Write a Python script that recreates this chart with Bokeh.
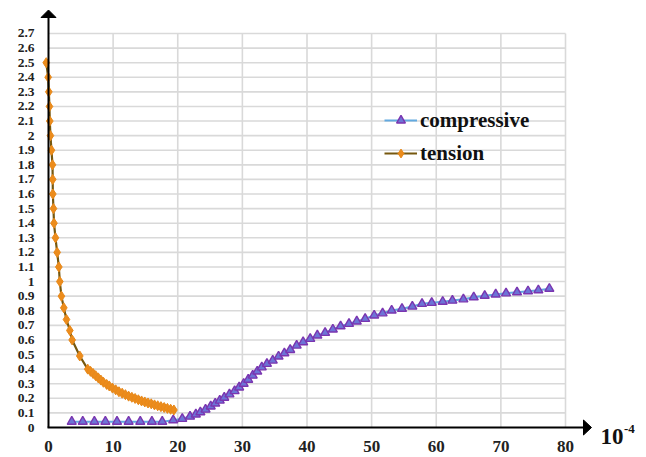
from bokeh.plotting import figure
from bokeh.models import Range1d, Legend, LegendItem
from bokeh.core.properties import value
from bokeh.embed import file_html
from bokeh.resources import INLINE

# ---- data ----
tension_x = [-0.35, -0.05, 0.05, 0.15, 0.2, 0.3, 0.46, 0.62, 0.65, 0.67,
             0.77, 0.85, 1.08, 1.34, 1.6, 1.75, 2.0, 2.37, 2.78, 3.3,
             3.66, 4.84, 6.07, 6.5, 6.9, 7.3, 7.7, 8.1, 8.5, 9.0,
             9.4, 9.9, 10.4, 10.9, 11.4, 11.9, 12.4, 12.9, 13.4, 13.9,
             14.4, 14.9, 15.4, 15.9, 16.4, 16.9, 17.4, 17.9, 18.4, 18.9, 19.4]
tension_y = [2.5, 2.4, 2.3, 2.2, 2.1, 2.0, 1.9, 1.8, 1.7, 1.6,
             1.5, 1.4, 1.3, 1.2, 1.1, 1.0, 0.9, 0.82, 0.74, 0.665,
             0.6, 0.49, 0.40, 0.385, 0.37, 0.355, 0.34, 0.325, 0.31, 0.295,
             0.285, 0.27, 0.258, 0.245, 0.235, 0.225, 0.215, 0.207, 0.199, 0.19,
             0.182, 0.175, 0.168, 0.162, 0.155, 0.149, 0.143, 0.137, 0.131, 0.125, 0.12]

comp_x = [3.6, 5.3, 7.1, 8.8, 10.6, 12.4, 14.2, 16.0, 17.6,
          19.3, 20.7, 21.9, 22.8, 23.5, 24.3, 25.1, 25.8, 26.5, 27.2,
          28.0, 28.8, 29.5, 30.2, 30.9, 31.6, 32.3, 33.0, 33.8, 34.7,
          35.6, 36.5, 37.4, 38.4, 39.4, 40.5, 41.6, 42.8, 44.0, 45.2,
          46.5, 47.7, 49.0, 50.4, 51.7, 53.1, 54.7, 56.3, 57.8, 59.3,
          61.0, 62.5, 64.2, 65.8, 67.5, 69.2, 70.8, 72.5, 74.2, 75.8, 77.5]
comp_y = [0.04, 0.04, 0.04, 0.04, 0.04, 0.04, 0.04, 0.04, 0.04,
          0.05, 0.06, 0.075, 0.09, 0.105, 0.123, 0.145, 0.165, 0.185, 0.205,
          0.228, 0.25, 0.275, 0.30, 0.328, 0.356, 0.384, 0.413, 0.437, 0.459,
          0.487, 0.509, 0.532, 0.562, 0.585, 0.608, 0.631, 0.649, 0.672, 0.694,
          0.711, 0.727, 0.745, 0.768, 0.783, 0.802, 0.814, 0.829, 0.848, 0.855,
          0.862, 0.870, 0.879, 0.893, 0.903, 0.912, 0.920, 0.927, 0.934, 0.941, 0.951]

x_ticks = [0, 10, 20, 30, 40, 50, 60, 70, 80]
x_labels = ["0", "10", "20", "30", "40", "50", "60", "70", "80"]
y_ticks = [round(0.1 * i, 1) for i in range(28)]
y_labels = ["0", "0.1", "0.2", "0.3", "0.4", "0.5", "0.6", "0.7", "0.8", "0.9",
            "1", "1.1", "1.2", "1.3", "1.4", "1.5", "1.6", "1.7", "1.8", "1.9",
            "2", "2.1", "2.2", "2.3", "2.4", "2.5", "2.6", "2.7"]
unit_base, unit_exp = "10", "-4"

FONT = value("Liberation Serif")

# pixel scale of the canvas: the whole canvas is the plotting frame
W, H = 646, 457
XS = 6.4625   # px per x unit
YS = 145.93   # px per y unit
OX, OY = 48, 427  # pixel position of the origin


def dx(px):
    return (px - OX) / XS


def dy(py):
    return (OY - py) / YS


p = figure(width=W, height=H,
           x_range=Range1d(dx(0), dx(W)), y_range=Range1d(dy(H), dy(0)),
           x_axis_location=None, y_axis_location=None,
           output_backend="svg", toolbar_location=None,
           min_border=0, outline_line_color=None,
           background_fill_color="white", border_fill_color="white")
p.xgrid.visible = False
p.ygrid.visible = False

# grid lines limited to the 0..80 x 0..2.7 area
grid_col = "#d9d9d9"
vx = x_ticks[1:]
p.segment(x0=vx, y0=[0] * len(vx), x1=vx, y1=[y_ticks[-1]] * len(vx),
          line_color=grid_col, line_width=1.6)
hy = y_ticks[1:]
p.segment(x0=[0] * len(hy), y0=hy, x1=[x_ticks[-1]] * len(hy), y1=hy,
          line_color=grid_col, line_width=1.6)

# series
c_line = p.line(comp_x, comp_y, line_color="#62a9e0", line_width=2)
c_mark = p.scatter(comp_x, comp_y, marker="triangle", size=9,
                   fill_color="#6d74d6", line_color="#7a35b0", line_width=1.4)
t_line = p.line(tension_x, tension_y, line_color="#76580f", line_width=2.2)
t_mark = p.scatter(tension_x, tension_y, marker="diamond", size=10,
                   fill_color="#ec8c1c", line_color="#e8891a", line_width=1)

# black axis lines with arrow heads
y_tip, y_base = dy(9.5), dy(17)
x_tip, x_base = dx(591), dx(583)
p.segment(x0=[0, dx(47)], y0=[0, 0], x1=[0, x_base], y1=[y_base, 0],
          line_color="black", line_width=2)
hw_x = 7.5 / XS
hw_y = 7.5 / YS
p.patch([-hw_x, 0, hw_x], [y_base, y_tip, y_base], fill_color="black", line_color="black")
p.patch([x_base, x_tip, x_base], [-hw_y, 0, hw_y], fill_color="black", line_color="black")

# tick labels
p.text(x=[dx(34)] * len(y_ticks), y=y_ticks, text=y_labels,
       text_font=FONT, text_font_style="bold", text_font_size="13.5px",
       text_align="right", text_baseline="middle", text_color="#222222")
p.text(x=x_ticks, y=[dy(440)] * len(x_ticks), text=x_labels,
       text_font=FONT, text_font_style="bold", text_font_size="17px",
       text_align="center", text_baseline="top", text_color="#222222")

# unit label at the end of the x axis
p.text(x=[dx(600)], y=[dy(435.5)], text=[unit_base],
       text_font=FONT, text_font_style="bold", text_font_size="23px",
       text_baseline="alphabetic", text_color="#111111")
p.text(x=[dx(623.5)], y=[dy(428)], text=[unit_exp],
       text_font=FONT, text_font_style="bold", text_font_size="13px",
       text_baseline="alphabetic", text_color="#111111")

legend = Legend(items=[LegendItem(label="compressive", renderers=[c_line, c_mark]),
                       LegendItem(label="tension", renderers=[t_line, t_mark])],
                location=(386 - 2, H - 165.5), padding=0, margin=0, spacing=8,
                glyph_width=33, glyph_height=22, label_height=22, label_standoff=3,
                label_text_font="Liberation Serif", label_text_font_style="bold",
                label_text_font_size="21px", label_text_color="#111111",
                border_line_color=None, background_fill_alpha=0)
p.add_layout(legend)

open("out.html", "w").write(file_html(p, INLINE))
